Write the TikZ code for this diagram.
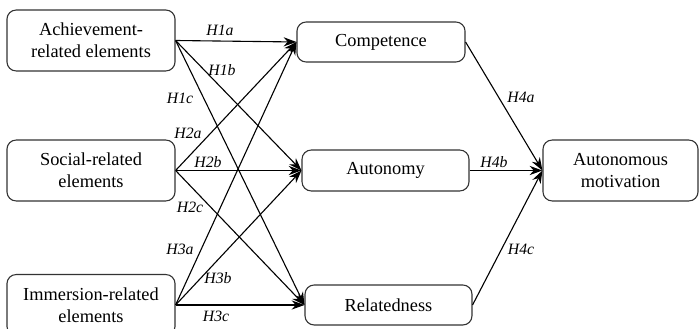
\documentclass[tikz,border=0pt]{standalone}
\usepackage{fontspec}
\setmainfont{Liberation Serif}
\usetikzlibrary{arrows.meta}
\tikzset{>={Stealth[length=7pt,width=5pt]}}
\tikzset{
  box/.style={draw=black!80, rounded corners=5pt, line width=0.6pt, align=center,
    inner sep=1pt, font=\normalsize},
  hyp/.style={font=\fontsize{8.6}{10}\selectfont\itshape, inner sep=0pt},
  link/.style={->, line width=0.6pt}
}

\begin{document}
\begin{tikzpicture}[x=0.545pt, y=-0.545pt]
\useasboundingbox (0,0) rectangle (700,329);
% left column
\node[box, minimum width=91.6pt, minimum height=33.2pt] (ach) at (91,40.5) {Achievement-\\related elements};
\node[box, minimum width=91.6pt, minimum height=33.2pt] (soc) at (91,170.5) {Social-related\\elements};
\node[box, minimum width=91.6pt, minimum height=33.2pt] (imm) at (91,305) {Immersion-related\\elements};
% middle column
\node[box, minimum width=91.6pt, minimum height=21.8pt] (comp) at (381,42) {Competence};
\node[box, minimum width=91pt, minimum height=22.3pt] (auto) at (385.5,170.5) {Autonomy};
\node[box, minimum width=91pt, minimum height=21.8pt] (rel) at (388.5,305) {Relatedness};
% right
\node[box, minimum width=84.5pt, minimum height=33.2pt] (mot) at (620.5,170.5) {Autonomous\\motivation};

\draw[link] (ach.east) -- (comp.west);
\draw[link] (ach.east) -- (auto.west);
\draw[link] (ach.east) -- (rel.west);
\draw[link] (soc.east) -- (comp.west);
\draw[link] (soc.east) -- (auto.west);
\draw[link] (soc.east) -- (rel.west);
\draw[link] (imm.east) -- (comp.west);
\draw[link] (imm.east) -- (auto.west);
\draw[link] (imm.east) -- (rel.west);
\draw[link] (comp.east) -- (mot.west);
\draw[link] (auto.east) -- (mot.west);
\draw[link] (rel.east) -- (mot.west);

% hypothesis labels
\node[hyp] (h1a) at (220,30) {H1a};
\node[hyp] (h1b) at (222,70) {H1b};
\node[hyp] (h1c) at (180,98) {H1c};
\node[hyp] (h2a) at (188,133) {H2a};
\node[hyp] (h2b) at (208,162) {H2b};
\node[hyp] (h2c) at (190,207) {H2c};
\node[hyp] (h3a) at (180,249) {H3a};
\node[hyp] (h3b) at (218,278) {H3b};
\node[hyp] (h3c) at (216,316) {H3c};
\node[hyp] (h4a) at (521,97) {H4a};
\node[hyp] (h4b) at (494,162) {H4b};
\node[hyp] (h4c) at (521,249) {H4c};
\end{tikzpicture}
\end{document}
